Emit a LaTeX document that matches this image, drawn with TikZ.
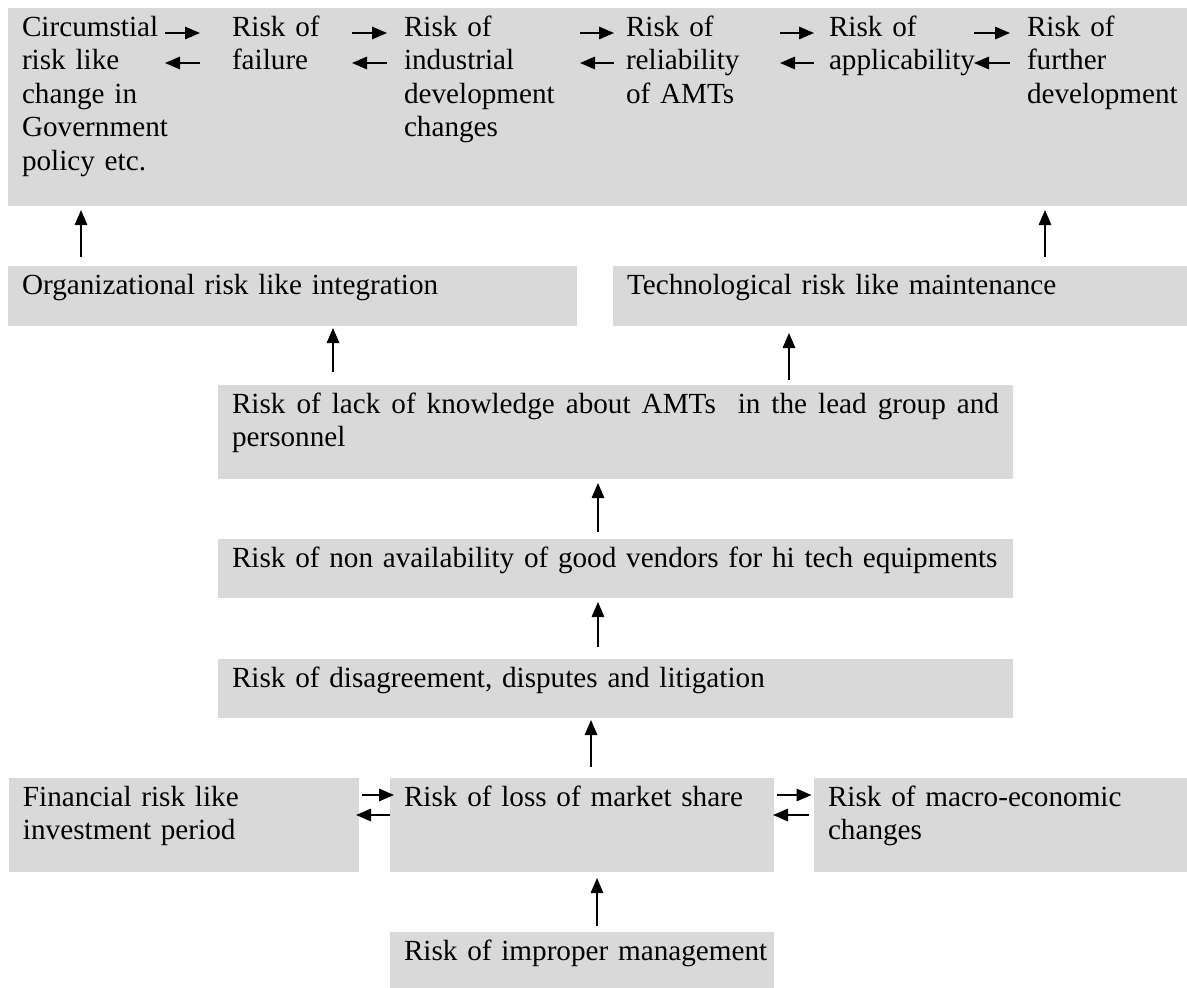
\documentclass[tikz,border=0pt]{standalone}
\usepackage{fontspec}
\setmainfont{Liberation Serif}
\usetikzlibrary{arrows.meta}
\definecolor{boxgray}{RGB}{217,217,217}
\hyphenpenalty=10000
\exhyphenpenalty=10000

\begin{document}
\begin{tikzpicture}[x=1pt,y=-1pt,
				font=\fontsize{29.2pt}{33.5pt}\selectfont,
				box/.style={fill=boxgray,anchor=north west,inner xsep=14pt,inner ysep=0pt,outer sep=0pt,text height=28pt,align=left},
				short/.style={text depth=32pt},
				tall/.style={text depth=66pt},
				cell/.style={anchor=base west,inner sep=0pt,outer sep=0pt,align=left},
				arr/.style={-{Triangle[length=15pt,width=12.5pt]},line width=1.5pt}]
				\useasboundingbox (0,0) rectangle (1187,988);

				% top row of risks
				\node (band) [fill=boxgray,anchor=north west,inner sep=0pt,outer sep=0pt,minimum width=1179pt,minimum height=198pt] at (8,8) {};
				\node (t1) [cell,text width=143pt] at (22,36)   {Circumstial\\risk like\\change in\\Government\\policy etc.};
				\node (t2) [cell,text width=120pt] at (232,36)  {Risk of\\failure};
				\node (t3) [cell,text width=176pt] at (404,36)  {Risk of\\industrial\\development\\changes};
				\node (t4) [cell,text width=154pt] at (626,36)  {Risk of\\reliability\\of AMTs};
				\node (t5) [cell,text width=145pt] at (829,36)  {Risk of\\applicability};
				\node (t6) [cell,text width=160pt] at (1027,36) {Risk of\\further\\development};

				% middle boxes
				\node (org)   [box,short,text width=541pt] at (8,266)   {Organizational risk like integration};
				\node (tech)  [box,short,text width=546pt] at (613,266) {Technological risk like maintenance};
				\node (knowl) [box,tall,text width=767pt,align=justify] at (218,385) {Risk of lack of knowledge about AMTs~ in the lead group and personnel};
				\node (vend)  [box,text depth=31pt,text width=767pt] at (218,539) {Risk of non availability of good vendors for hi tech equipments};
				\node (disag) [box,text depth=31pt,text width=767pt] at (218,659) {Risk of disagreement, disputes and litigation};

				% bottom boxes
				\node (fin)    [box,tall,text width=322pt] at (9,778)   {Financial risk like investment period};
				\node (market) [box,tall,text width=356pt] at (390,778) {Risk of loss of market share};
				\node (macro)  [box,tall,text width=345pt] at (814,778) {Risk of macro-economic changes};
				\node (improp) [box,text depth=28pt,text width=356pt] at (390,932) {\mbox{Risk of improper management}};

				\foreach \a/\b/\g in {t1/t2/32,t2/t3/17,t3/t4/12,t4/t5/15,t5/t6/17}{
					\draw[arr,shorten >=\g pt] (\a.east |- 0,33) -- (\b.west |- 0,33);
					\draw[arr,shorten <=\g pt] (\b.west |- 0,63) -- (\a.east |- 0,63);
				}

				\draw[arr,shorten <=9pt,shorten >=4pt]  (org.north -| 81,0)    -- (band.south -| 81,0);
				\draw[arr,shorten <=9pt,shorten >=4pt]  (tech.north -| 1045,0) -- (band.south -| 1045,0);
				\draw[arr,shorten <=13pt,shorten >=2pt] (knowl.north -| 333,0) -- (org.south -| 333,0);
				\draw[arr,shorten <=5pt,shorten >=7pt]  (knowl.north -| 789,0) -- (tech.south -| 789,0);
				\draw[arr,shorten <=7pt,shorten >=4pt]  (vend.north -| 598,0)  -- (knowl.south -| 598,0);
				\draw[arr,shorten <=12pt,shorten >=4pt] (disag.north -| 598,0) -- (vend.south -| 598,0);
				\draw[arr,shorten <=11pt,shorten >=2pt] (market.north -| 591,0) -- (disag.south -| 591,0);
				\draw[arr,shorten <=6pt,shorten >=6pt]  (improp.north -| 597,0) -- (market.south -| 597,0);

				\draw[arr,shorten <=3pt,shorten >=-4pt]  (fin.east |- 0,795)    -- (market.west |- 0,795);
				\draw[arr,shorten >=-3pt]                (market.west |- 0,815) -- (fin.east |- 0,815);
				\draw[arr,shorten <=3pt,shorten >=2.5pt] (market.east |- 0,795) -- (macro.west |- 0,795);
				\draw[arr,shorten <=5.5pt,shorten >=-1pt] (macro.west |- 0,815) -- (market.east |- 0,815);
\end{tikzpicture}
\end{document}
